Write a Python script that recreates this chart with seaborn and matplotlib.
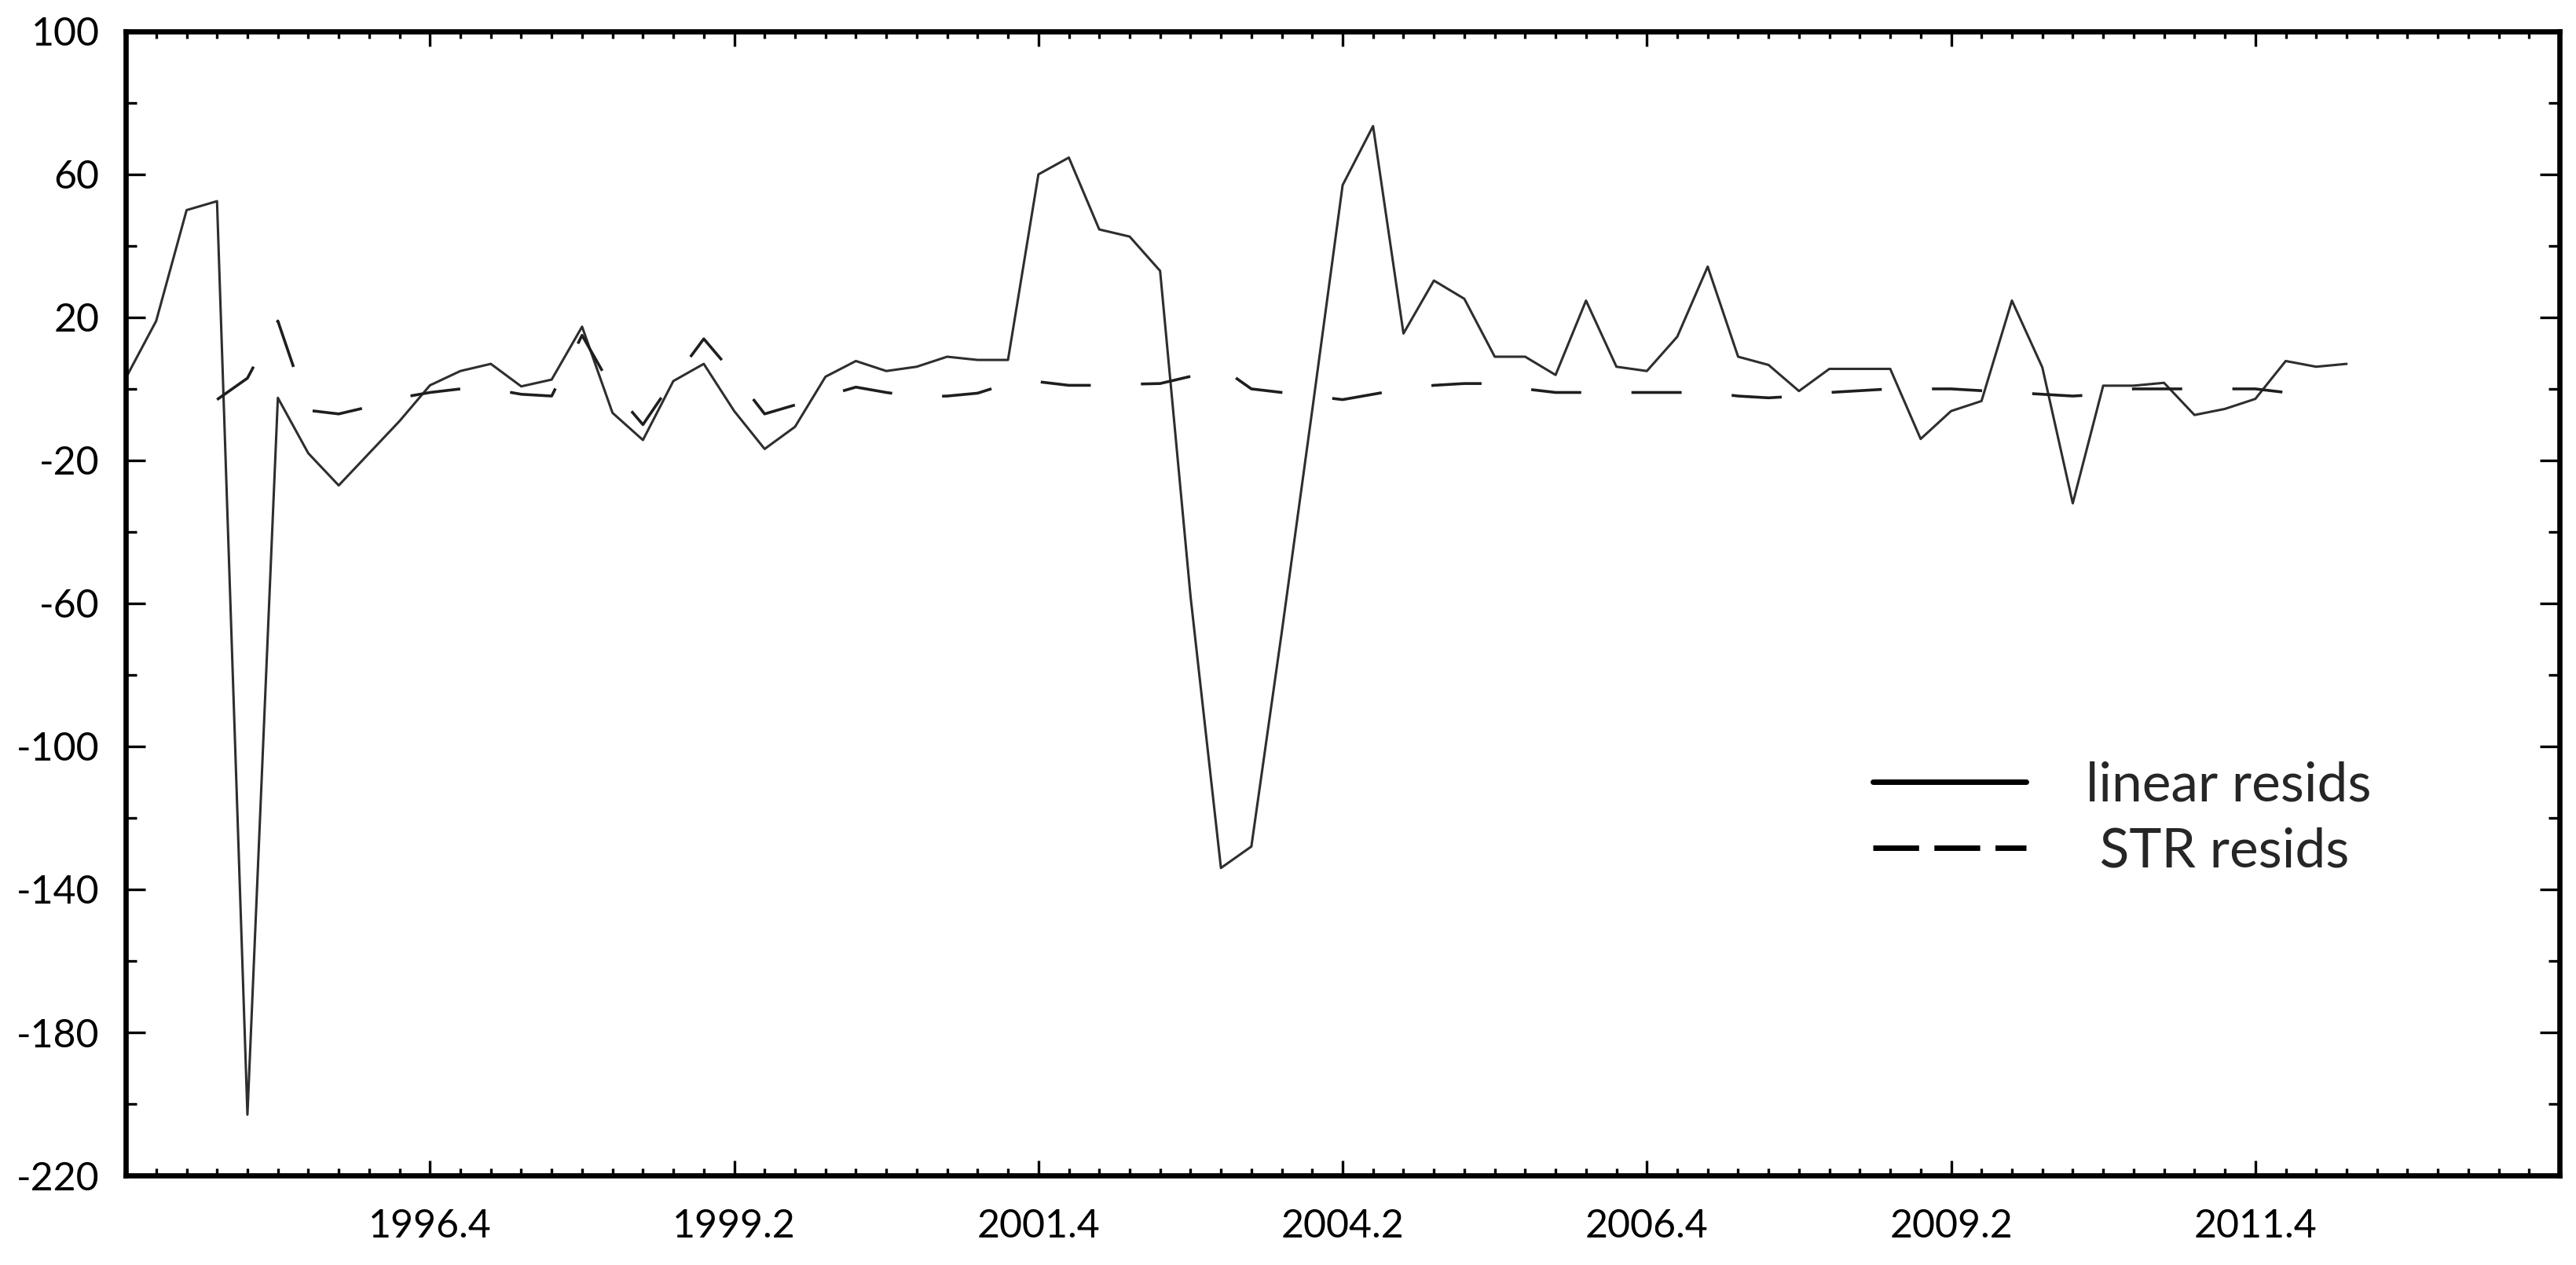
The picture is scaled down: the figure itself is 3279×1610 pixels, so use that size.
import numpy as np
import pandas as pd
import seaborn as sns
import matplotlib
matplotlib.use("Agg")
import matplotlib.pyplot as plt
from matplotlib.lines import Line2D
from matplotlib.ticker import FixedLocator, MultipleLocator

# quarterly residuals, first quarter is 1994.2
start_label = "1994.2"
linear_resids = [3, 19, 50, 52.5, -203, -2.5, -18, -27, -18, -9,
                 1, 5, 7, 0.7, 2.6, 17.4, -6.7, -14.3, 2.2, 7,
                 -6.2, -16.8, -10.6, 3.4, 7.8, 5, 6.2, 9, 8.1, 8.1,
                 60, 64.7, 44.6, 42.6, 33, -58, -134, -128, -68, -6,
                 57, 73.5, 15.5, 30.3, 25.2, 9, 9, 3.9, 24.7, 6.2,
                 5, 14.6, 34.2, 9, 6.7, -0.6, 5.6, 5.6, 5.6, -14,
                 -6.2, -3.4, 24.7, 6, -32, 0.9, 0.9, 1.7, -7.3, -5.6,
                 -2.8, 7.8, 6.2, 7]
# STR residuals start 3 quarters later
str_start = 3
str_resids = [-3, 3, 19, -6, -7, -5, -2.5, -1, 0, 0,
              -1.5, -2, 15, 0, -10, 2.5, 14, 4, -7, -4.5,
              -2, 0.5, -1, -2.2, -2, -1.2, 1.5, 2, 1, 1,
              1.3, 1.5, 3.5, 6, 0, -1, -2, -3, -1.5, 0,
              1, 1.5, 1.5, 0, -1, -1, -1, -1, -1, -1,
              -2, -2.5, -2, -1, -0.5, 0, 0, 0, -0.5, -1,
              -1.5, -2, -1.5, 0, 0, 0, 0, 0, -1, -2]
x_tick_labels = ["1996.4", "1999.2", "2001.4", "2004.2", "2006.4", "2009.2", "2011.4"]
y_ticks = [-220, -180, -140, -100, -60, -20, 20, 60, 100]
n_quarters = 80


def quarter_index(label):
    y0, q0 = start_label.split(".")
    y, q = label.split(".")
    return (int(y) - int(y0)) * 4 + int(q) - int(q0)


df_lin = pd.DataFrame({"t": np.arange(len(linear_resids)), "resid": linear_resids})
df_str = pd.DataFrame({"t": np.arange(len(str_resids)) + str_start, "resid": str_resids})

sns.set_theme(style="ticks")
plt.rcParams["font.family"] = ["Lato", "DejaVu Sans"]
plt.rcParams["axes.unicode_minus"] = False
plt.rcParams["lines.scale_dashes"] = False

fig = plt.figure(figsize=(16.4, 8.05), dpi=200)
ax = fig.add_axes([0.0488, 0.0708, 0.9445, 0.9044])

sns.lineplot(data=df_lin, x="t", y="resid", ax=ax, color="#2e2e2e", lw=1.1)
sns.lineplot(data=df_str, x="t", y="resid", ax=ax, color="#1e1e1e", lw=1.3,
             linestyle=(0, (23, 23)))

ax.set_xlim(0, n_quarters)
ax.set_ylim(-220, 100)
ax.set_xlabel("")
ax.set_ylabel("")

ax.xaxis.set_major_locator(FixedLocator([quarter_index(l) for l in x_tick_labels]))
ax.set_xticklabels(x_tick_labels)
ax.xaxis.set_minor_locator(MultipleLocator(1))
ax.yaxis.set_major_locator(FixedLocator(y_ticks))
ax.set_yticklabels([str(v) for v in y_ticks])
ax.yaxis.set_minor_locator(FixedLocator(np.arange(-200, 81, 40)))

for s in ax.spines.values():
    s.set_visible(True)
    s.set_linewidth(2.4)
    s.set_color("black")

ax.tick_params(which="both", direction="in", top=True, right=True,
               labeltop=False, labelright=False, colors="black", width=1.2)
ax.tick_params(axis="x", which="major", length=7, pad=15, labelsize=18)
ax.tick_params(axis="x", which="minor", length=3.3)
ax.tick_params(axis="y", which="major", length=9, pad=12, labelsize=18)
ax.tick_params(axis="y", which="minor", length=5)

handles = [Line2D([], [], color="black", lw=2.5),
           Line2D([], [], color="black", lw=2.5, linestyle=(0, (21, 7)))]
ax.legend(handles, ["linear resids", " STR resids"], loc="center left",
          bbox_to_anchor=(0.718, 0.312), frameon=False, fontsize=25,
          handlelength=2.8, handletextpad=1.1, labelspacing=0.3,
          borderaxespad=0, borderpad=0)

fig.savefig("out.png", dpi=200, facecolor="white")
